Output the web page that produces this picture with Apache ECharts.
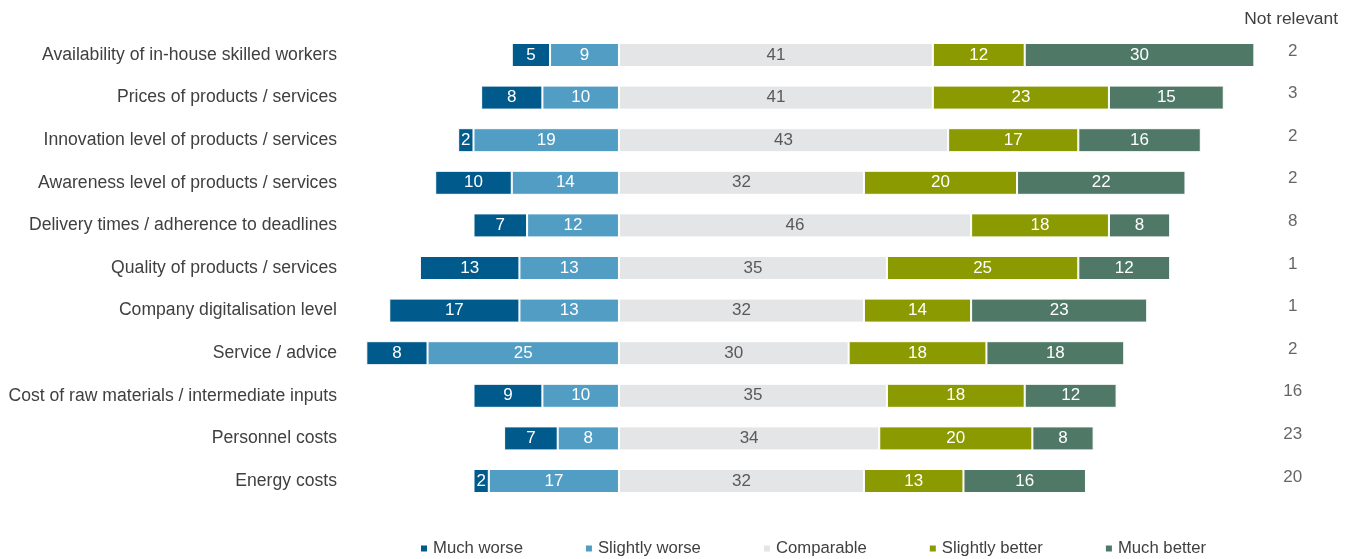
<!DOCTYPE html>
<html>
<head>
<meta charset="utf-8">
<title>Competitive position by factor</title>
<script src="https://cdn.jsdelivr.net/npm/echarts@6/dist/echarts.min.js"></script>
<style>
  html, body { margin: 0; padding: 0; background: #fff; }
  #chart { width: 1354px; height: 559px; }
</style>
</head>
<body>
<div id="chart"></div>
<script>
// Survey factors, top to bottom
const categories = [
  'Availability of in-house skilled workers',
  'Prices of products / services',
  'Innovation level of products / services',
  'Awareness level of products / services',
  'Delivery times / adherence to deadlines',
  'Quality of products / services',
  'Company digitalisation level',
  'Service / advice',
  'Cost of raw materials / intermediate inputs',
  'Personnel costs',
  'Energy costs'
];

// Shares of respondents (%)
const muchWorse      = [5, 8, 2, 10, 7, 13, 17, 8, 9, 7, 2];
const slightlyWorse  = [9, 10, 19, 14, 12, 13, 13, 25, 10, 8, 17];
const comparable     = [41, 41, 43, 32, 46, 35, 32, 30, 35, 34, 32];
const slightlyBetter = [12, 23, 17, 20, 18, 25, 14, 18, 18, 20, 13];
const muchBetter     = [30, 15, 16, 22, 8, 12, 23, 18, 12, 8, 16];
const notRelevant    = [2, 3, 2, 2, 8, 1, 1, 2, 16, 23, 20];

const seriesNames = ['Much worse', 'Slightly worse', 'Comparable', 'Slightly better', 'Much better'];
const colors = {
  'Much worse': '#005a8c',
  'Slightly worse': '#529dc4',
  'Comparable': '#e4e5e7',
  'Slightly better': '#8a9a00',
  'Much better': '#4f7866'
};

const FONT = '"Liberation Sans", Arial, Helvetica, sans-serif';
const NOT_RELEVANT_X = 88;

function barSeries(name, values, negative) {
  return {
    name: name,
    type: 'bar',
    stack: 'total',
    barWidth: 24,
    data: values.map(v => negative ? -v : v),
    itemStyle: { color: colors[name], borderColor: '#ffffff', borderWidth: 1 },
    label: {
      show: true,
      position: 'inside',
      formatter: p => Math.abs(p.value),
      color: name === 'Comparable' ? '#595959' : '#ffffff',
      fontFamily: FONT,
      fontSize: 17
    },
    emphasis: { disabled: true }
  };
}

const chart = echarts.init(document.getElementById('chart'), null, { renderer: 'canvas' });

chart.setOption({
  animation: false,
  backgroundColor: '#ffffff',
  title: {
    text: 'Not relevant',
    right: 11,
    top: 6,
    textStyle: { fontFamily: FONT, fontSize: 17.4, fontWeight: 'normal', color: '#404040' }
  },
  legend: {
    data: seriesNames,
    left: 414,
    top: 535,
    icon: 'rect',
    itemWidth: 8,
    itemHeight: 8,
    itemGap: 61,
    textStyle: { fontFamily: FONT, fontSize: 16.7, color: '#404040' },
    selectedMode: false
  },
  grid: {
    left: 351,
    right: 15.4,
    top: 33.7,
    bottom: 56.7,
    containLabel: false
  },
  xAxis: {
    type: 'value',
    min: -35,
    max: 94,
    show: false,
    splitLine: { show: false }
  },
  yAxis: {
    type: 'category',
    data: categories,
    inverse: true,
    axisLine: { show: false },
    axisTick: { show: false },
    splitLine: { show: false },
    axisLabel: {
      margin: 14,
      fontFamily: FONT,
      fontSize: 17.6,
      color: '#404040'
    }
  },
  series: [
    // Negative side stacks outward from zero: slightly worse first, then much worse
    barSeries('Slightly worse', slightlyWorse, true),
    barSeries('Much worse', muchWorse, true),
    barSeries('Comparable', comparable, false),
    barSeries('Slightly better', slightlyBetter, false),
    barSeries('Much better', muchBetter, false),
    {
      name: 'Not relevant',
      type: 'scatter',
      symbolSize: 0,
      data: notRelevant.map((v, i) => [NOT_RELEVANT_X, categories[i], v]),
      label: {
        show: true,
        position: 'inside',
        offset: [0, -4],
        formatter: p => p.value[2],
        fontFamily: FONT,
        fontSize: 17,
        color: '#404040'
      },
      emphasis: { disabled: true },
      silent: true
    }
  ]
});
</script>
</body>
</html>
